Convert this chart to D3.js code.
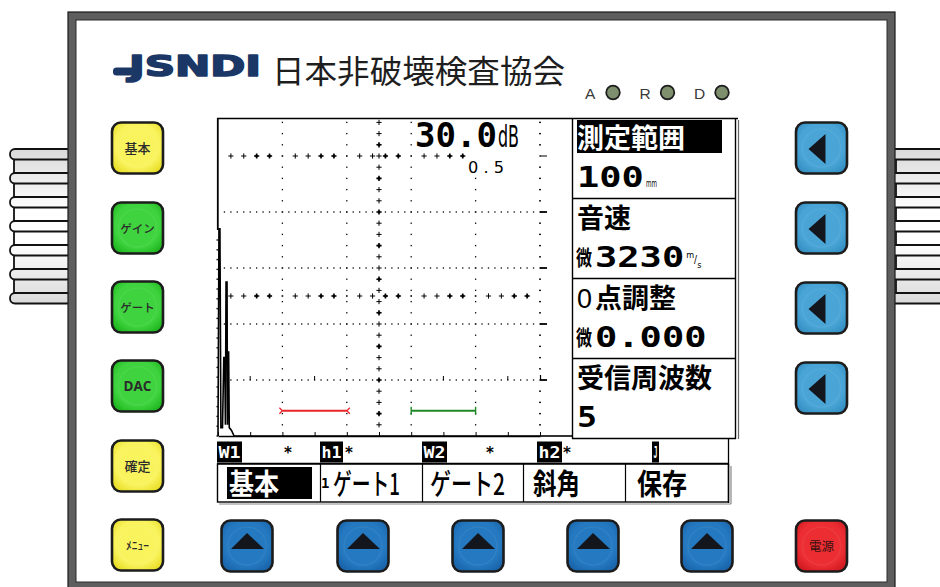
<!DOCTYPE html>
<html><head><meta charset="utf-8">
<script src="https://cdn.jsdelivr.net/npm/d3@7/dist/d3.min.js"></script>
<style>html,body{margin:0;padding:0;background:#fff;overflow:hidden}svg{display:block}</style>
</head><body>
<script>
// ---------------- data ----------------
const rangeMm = [0, 100];
const ampPct = [0, 100];
const xTicksMm = [0,10,20,30,40,50,60,70,80,90,100];
const xGridMm = [20,40,60,80,100];
const yGridPct = [20,40,60,80];
const yCrossPct = [50,100];
const echoMm  = [0.0,0.3,0.6,0.9,1.4,1.8,2.1,2.3,2.5,2.8,2.95,3.1,3.3,3.5,4.2,5.0,100];
const echoPct = [0,  74, 74, 3,  3,  28, 28, 4,  55, 55, 4,   30, 30, 3,  2,  0,  0];
const gateStartMm = [20, 60];
const gateEndMm   = [40, 80];
const gateLevelPct = [9, 9];
const gainDb = "30.0";
const gainStep = "0.5";
const panelTitles = ["測定範囲","音速","0点調整","受信周波数"];
const panelPrefix = ["","微","微",""];
const panelValues = ["100","3230","0.000","5"];
const panelUnits  = ["mm","m/s","",""];
const statusLabels = ["W1","h1","W2","h2","J"];
const menuLabels = ["基本","ゲート1","ゲート2","斜角","保存"];
const leftKeys = ["基本","ゲイン","ゲート","DAC","確定","ﾒﾆｭｰ"];
const leftKeyKinds = ["yellow","green","green","green","yellow","yellow"];
const ledLabels = ["A","R","D"];
const brandLogo = "JSNDI";
const brandName = "日本非破壊検査協会";
const powerLabel = "電源";

// ---------------- drawing ----------------
const W = 940, H = 587;
const svg = d3.select("body").append("svg").attr("width", W).attr("height", H);
const defs = svg.append("defs");
function radial(id, c0, c1) {
  const g = defs.append("radialGradient").attr("id", id).attr("cx","50%").attr("cy","45%").attr("r","62%");
  g.append("stop").attr("offset","0%").attr("stop-color", c0);
  g.append("stop").attr("offset","70%").attr("stop-color", c0);
  g.append("stop").attr("offset","100%").attr("stop-color", c1);
}
radial("gyellow", "#f9f35e", "#e9df2a");
radial("ggreen",  "#3fd43f", "#20b820");
radial("gblueR",  "#4aa5d6", "#3590c4");
radial("gblueB",  "#2479c0", "#1a64aa");
radial("gred",    "#ec2e33", "#d21b21");
radial("gled",    "#7d8f6c", "#3a4934");
const grip = defs.append("linearGradient").attr("id","ggrip").attr("gradientUnits","userSpaceOnUse")
  .attr("x1",0).attr("y1",149).attr("x2",0).attr("y2",304);
[["0","#d9d9d9"],["0.4","#ffffff"],["0.6","#ffffff"],["1","#d9d9d9"]]
  .forEach(s => grip.append("stop").attr("offset", s[0]).attr("stop-color", s[1]));

const CJK = "'Noto Sans CJK JP', sans-serif";
const MONO = "'DejaVu Sans Mono', monospace";

// side grips
const pillTops = d3.range(7).map(i => 149 + i * 24);
function drawGrip(xPill0, xPill1, xRect0, xRect1) {
  const g = svg.append("g");
  pillTops.slice(0, -1).forEach(t => {
    g.append("rect").attr("x", xRect0).attr("y", t + 10).attr("width", xRect1 - xRect0).attr("height", 14)
      .attr("fill", "url(#ggrip)").attr("stroke", "#111").attr("stroke-width", 1.8);
  });
  pillTops.forEach(t => {
    g.append("rect").attr("x", xPill0).attr("y", t).attr("width", xPill1 - xPill0).attr("height", 10.5)
      .attr("rx", 5).attr("fill", "url(#ggrip)").attr("stroke", "#111").attr("stroke-width", 1.8);
  });
}
drawGrip(10, 72, 14, 70);
drawGrip(890, 952, 896, 952);

// device frame
svg.append("rect").attr("x", 72).attr("y", 16).attr("width", 819).attr("height", 570)
  .attr("fill", "#fff").attr("stroke", "#5e5e5e").attr("stroke-width", 8);
svg.append("rect").attr("x", 68).attr("y", 12).attr("width", 827).attr("height", 578)
  .attr("fill", "none").attr("stroke", "#1a1a1a").attr("stroke-width", 1.2);
svg.append("rect").attr("x", 76).attr("y", 20).attr("width", 811).attr("height", 562)
  .attr("fill", "none").attr("stroke", "#2a2a2a").attr("stroke-width", 1);

// logo
const logo = svg.append("g");
logo.append("rect").attr("x", 113).attr("y", 67.5).attr("width", 28).attr("height", 8).attr("rx", 3.5).attr("fill", "#1b3766");
logo.append("text").attr("x", 129).attr("y", 75.5).text(brandLogo)
  .attr("font-family", "'DejaVu Sans', sans-serif").attr("font-weight", "bold").attr("font-size", 28)
  .attr("textLength", 132).attr("lengthAdjust", "spacingAndGlyphs").attr("fill", "#1b3766")
  .attr("stroke", "#1b3766").attr("stroke-width", 1.6).attr("stroke-linejoin", "round");
logo.append("text").attr("x", 272).attr("y", 83).text(brandName)
  .attr("font-family", CJK).attr("font-size", 32).attr("textLength", 293).attr("lengthAdjust","spacingAndGlyphs")
  .attr("fill", "#1e1e1e");

// LEDs
ledLabels.forEach((l, i) => {
  const bx = 585 + i * 54.5;
  svg.append("text").attr("x", bx).attr("y", 98.5).text(l)
    .attr("font-family", "'Liberation Sans', Arial, sans-serif").attr("font-size", 15.5).attr("fill", "#3a3a3a");
  svg.append("circle").attr("cx", bx + 28).attr("cy", 92.5).attr("r", 6.8)
    .attr("fill", "url(#gled)").attr("stroke", "#1e1e1e").attr("stroke-width", 1.8);
});

// keys
function key(cx, cy, fill) {
  const g = svg.append("g").attr("transform", `translate(${cx},${cy})`);
  g.append("rect").attr("x", -25.5).attr("y", -25.5).attr("width", 51).attr("height", 51).attr("rx", 9)
    .attr("fill", fill).attr("stroke", "#1c1c1c").attr("stroke-width", 2.6);
  g.append("circle").attr("r", 19).attr("fill", "none").attr("stroke", "#ffffff").attr("stroke-opacity", 0.06).attr("stroke-width", 1.5);
  return g;
}
const leftKeyY = [148, 228, 307, 386, 466, 545];
leftKeys.forEach((k, i) => {
  const g = key(137.5, leftKeyY[i], leftKeyKinds[i] === "yellow" ? "url(#gyellow)" : "url(#ggreen)");
  const isDac = k === "DAC";
  g.append("text").attr("x", 0).attr("y", isDac ? 5 : 4.5).attr("text-anchor", "middle").text(k)
    .attr("font-family", isDac ? "'Open Sans', sans-serif" : CJK)
    .attr("font-weight", isDac ? 700 : 500)
    .attr("font-size", isDac ? 13.5 : (k.length > 2 ? 11.5 : 13))
    .attr("fill", "#2b2b2b");
});
const rightKeyY = [148, 228, 308, 388];
rightKeyY.forEach(cy => {
  const g = key(821.5, cy, "url(#gblueR)");
  g.append("path").attr("d", "M-13,1 L4,-14 L4,16 Z").attr("fill", "#14161e");
});
const bottomKeyX = [247, 363, 478, 593, 707];
bottomKeyX.forEach(cx => {
  const g = key(cx, 546, "url(#gblueB)");
  g.append("path").attr("d", "M-16,3 L0,-13 L17,3 Z").attr("fill", "#14161e");
});
{
  const g = key(821.5, 546, "url(#gred)");
  g.append("text").attr("x", 0).attr("y", 4.5).attr("text-anchor", "middle").text(powerLabel)
    .attr("font-family", CJK).attr("font-size", 12.5).attr("fill", "#3a1010");
}

// ---------------- LCD ----------------
const x = d3.scaleLinear().domain(rangeMm).range([218, 540]);
const y = d3.scaleLinear().domain(ampPct).range([436, 156]);
const lcd = svg.append("g");
lcd.append("rect").attr("x", 217).attr("y", 118).attr("width", 521).attr("height", 385).attr("fill", "#fff");

const dotAmps = d3.range(4, 113, 4);
const dot = (px, py, s = 1.3) => lcd.append("rect").attr("x", px - s / 2).attr("y", py - s / 2).attr("width", s).attr("height", s).attr("fill", "#000");
const cross = (px, py, heavy) => {
  const s = 2.6;
  lcd.append("path").attr("d", `M${px - s},${py}H${px + s}M${px},${py - s}V${py + s}`)
    .attr("stroke", "#000").attr("stroke-width", heavy ? 1.6 : 1);
  if (heavy) dot(px, py, 2.4);
};

// vertical dotted grid lines
xGridMm.forEach(m => dotAmps.forEach(a => { if (![20,40,60,80,50,100].includes(a)) dot(x(m), y(a)); }));
// horizontal dotted grid lines
yGridPct.forEach(a => d3.range(2, 100, 2).forEach(m => { if (m % 20 !== 0 && m !== 50) dot(x(m), y(a)); }));
yGridPct.concat(yCrossPct).forEach(a => xGridMm.slice(0, -1).forEach(m => dot(x(m), y(a), 1.6)));
// cross rows
yCrossPct.forEach(a => d3.range(4, 100, 4).forEach(m => {
  if (m % 20 !== 0) cross(x(m), y(a), (m % 20) > 10);
}));
// center line
dotAmps.forEach((a, i) => cross(x(50), y(a), i % 3 === 1));
// small ticks on 20% line
[10, 30, 70, 90].forEach(m => lcd.append("line").attr("x1", x(m)).attr("x2", x(m)).attr("y1", y(20)).attr("y2", y(20) - 4).attr("stroke", "#000").attr("stroke-width", 1));
// right end markers
yGridPct.concat([100]).forEach(a => lcd.append("line").attr("x1", x(100)).attr("x2", x(100) + 7).attr("y1", y(a)).attr("y2", y(a))
  .attr("stroke", "#000").attr("stroke-width", a === 100 ? 1 : 1.8));
lcd.append("line").attr("x1", x(100) + 0.5).attr("x2", x(100) + 0.5).attr("y1", y(20) - 5).attr("y2", y(20)).attr("stroke", "#000").attr("stroke-width", 1.2);
// right dotted edge column
dotAmps.forEach(a => dot(x(100), y(a)));

// gain readout boxes
lcd.append("rect").attr("x", 414).attr("y", 119.5).attr("width", 118).attr("height", 31).attr("fill", "#fff");
lcd.append("rect").attr("x", 466).attr("y", 150).attr("width", 66).attr("height", 25).attr("fill", "#fff");
lcd.append("text").attr("x", 415).attr("y", 147).text(gainDb)
  .attr("font-family", MONO).attr("font-weight", "bold").attr("font-size", 33)
  .attr("textLength", 82).attr("lengthAdjust", "spacingAndGlyphs");
lcd.append("text").attr("x", 498).attr("y", 147).text("dB")
  .attr("font-family", "'Liberation Sans Narrow','DejaVu Sans Condensed',sans-serif").attr("font-size", 31)
  .attr("textLength", 21).attr("lengthAdjust", "spacingAndGlyphs");
lcd.append("text").attr("x", 468).attr("y", 172.5).text(gainStep.split("").join(" "))
  .attr("font-family", "'DejaVu Sans Condensed', sans-serif").attr("font-size", 15)
  .attr("textLength", 36).attr("lengthAdjust", "spacingAndGlyphs");

// left edge: solid upper part, dotted lower
lcd.append("line").attr("x1", 217.8).attr("x2", 217.8).attr("y1", 118).attr("y2", 230).attr("stroke", "#000").attr("stroke-width", 1.8);
d3.range(0, 72, 3.5).forEach(a => dot(217.2, y(a), 1.4));

// baseline axis
const axis = d3.axisBottom(x).tickValues(xTicksMm).tickSize(-4).tickSizeOuter(0).tickFormat("");
const ag = lcd.append("g").attr("transform", `translate(0,${y(0)})`).call(axis);
ag.select(".domain").attr("stroke", "#000").attr("stroke-width", 1.6);
ag.selectAll(".tick line").attr("stroke", "#000").attr("stroke-width", 1);
lcd.append("line").attr("x1", 540).attr("x2", 572).attr("y1", y(0)).attr("y2", y(0)).attr("stroke", "#000").attr("stroke-width", 1.6);

// gates
const gateColor = ["#e8242a", "#1f8a25"];
gateStartMm.forEach((s, i) => {
  const gy = y(gateLevelPct[i]), gx0 = x(s), gx1 = x(gateEndMm[i]);
  lcd.append("line").attr("x1", gx0).attr("x2", gx1).attr("y1", gy).attr("y2", gy).attr("stroke", gateColor[i]).attr("stroke-width", 2);
  if (i === 0) {
    lcd.append("path").attr("d", `M${gx0 - 3},${gy - 3}L${gx0},${gy}L${gx0 - 3},${gy + 3}M${gx1 + 3},${gy - 3}L${gx1},${gy}L${gx1 + 3},${gy + 3}`)
      .attr("stroke", gateColor[i]).attr("fill", "none").attr("stroke-width", 1.3);
  } else {
    lcd.append("path").attr("d", `M${gx0},${gy - 4}V${gy + 4}M${gx1},${gy - 4}V${gy + 4}`)
      .attr("stroke", gateColor[i]).attr("stroke-width", 1.4);
  }
});

// echo trace
const line = d3.line().x(i => x(echoMm[i])).y(i => y(echoPct[i]));
lcd.append("path").attr("d", line(d3.range(echoMm.length))).attr("fill", "none")
  .attr("stroke", "#000").attr("stroke-width", 1.6).attr("stroke-linejoin", "miter");

// top border
lcd.append("line").attr("x1", 217).attr("x2", 738).attr("y1", 118.5).attr("y2", 118.5).attr("stroke", "#000").attr("stroke-width", 1.6);

// ---- right panel ----
const panel = lcd.append("g");
panel.append("line").attr("x1", 572.5).attr("x2", 572.5).attr("y1", 118).attr("y2", 439).attr("stroke", "#000").attr("stroke-width", 1.4);
panel.append("line").attr("x1", 735.5).attr("x2", 735.5).attr("y1", 118).attr("y2", 439).attr("stroke", "#000").attr("stroke-width", 1.4);
panel.append("line").attr("x1", 738.5).attr("x2", 738.5).attr("y1", 120).attr("y2", 439).attr("stroke", "#666").attr("stroke-width", 1.2);
[198, 278, 358, 438].forEach(yy => panel.append("line").attr("x1", 572).attr("x2", 736).attr("y1", yy + 0.5).attr("y2", yy + 0.5).attr("stroke", "#000").attr("stroke-width", 1.3));
const rowTop = [118, 198, 278, 358];
panelTitles.forEach((t, i) => {
  const r = rowTop[i];
  if (i === 0) panel.append("rect").attr("x", 577).attr("y", r + 2).attr("width", 145).attr("height", 33).attr("fill", "#000");
  if (t.startsWith("0")) {
    panel.append("text").attr("x", 577).attr("y", r + 30).text("0").attr("font-family", "'Liberation Sans',sans-serif").attr("font-size", 27).attr("textLength", 15).attr("lengthAdjust","spacingAndGlyphs");
    panel.append("text").attr("x", 595).attr("y", r + 30).text(t.slice(1)).attr("font-family", CJK).attr("font-weight", 700).attr("font-size", 27)
      .attr("textLength", 81).attr("lengthAdjust", "spacingAndGlyphs");
  } else {
    panel.append("text").attr("x", 577).attr("y", r + 30).text(t).attr("font-family", CJK).attr("font-weight", 700).attr("font-size", 27)
      .attr("fill", i === 0 ? "#fff" : "#000").attr("textLength", t.length * 27).attr("lengthAdjust", "spacingAndGlyphs");
  }
  let vx = 577;
  if (panelPrefix[i]) {
    panel.append("text").attr("x", 576).attr("y", r + 67).text(panelPrefix[i]).attr("font-family", CJK).attr("font-weight", 700)
      .attr("font-size", 21).attr("textLength", 16).attr("lengthAdjust", "spacingAndGlyphs");
    vx = 595;
  }
  const v = panelValues[i];
  const vw = v.length * 22.3;
  panel.append("text").attr("x", vx).attr("y", r + 69).text(v).attr("font-family", MONO).attr("font-weight", "bold")
    .attr("font-size", i === 3 ? 28 : 29).attr("textLength", i === 3 ? 20 : vw).attr("lengthAdjust", "spacingAndGlyphs");
  const u = panelUnits[i];
  if (u === "mm") {
    panel.append("text").attr("x", vx + vw + 2).attr("y", r + 69).text(u).attr("font-family", "'DejaVu Sans Condensed',sans-serif")
      .attr("font-size", 11).attr("textLength", 11).attr("lengthAdjust", "spacingAndGlyphs");
  } else if (u === "m/s") {
    const ux = vx + vw + 2;
    const parts = u.split("");
    const ut = panel.append("text").attr("x", ux).attr("y", r + 60)
      .attr("font-family", "'DejaVu Sans Condensed',sans-serif").attr("font-size", 9);
    ut.append("tspan").text(parts[0]);
    ut.append("tspan").attr("dy", 5).attr("font-size", 10).text(parts[1]);
    ut.append("tspan").attr("dy", 5).text(parts[2]);
  }
});

// ---- status row ----
const status = lcd.append("g");
status.append("line").attr("x1", 217).attr("x2", 729).attr("y1", 463.5).attr("y2", 463.5).attr("stroke", "#000").attr("stroke-width", 1.3);
status.append("line").attr("x1", 728.5).attr("x2", 728.5).attr("y1", 439).attr("y2", 503).attr("stroke", "#000").attr("stroke-width", 1.3);
const statusX = [217, 320, 422, 537, 652];
const statusW = [25, 23, 25, 25, 7];
statusLabels.forEach((s, i) => {
  status.append("rect").attr("x", statusX[i]).attr("y", 441.5).attr("width", statusW[i]).attr("height", 21).attr("fill", "#000");
  status.append("text").attr("x", statusX[i] + 1.5).attr("y", 458).text(s).attr("fill", "#fff")
    .attr("font-family", MONO).attr("font-weight", "bold").attr("font-size", 15)
    .attr("textLength", statusW[i] - 3).attr("lengthAdjust", "spacingAndGlyphs");
});
[288, 349, 490, 567].forEach(ax => status.append("text").attr("x", ax).attr("y", 458).attr("text-anchor", "middle").text("*")
  .attr("font-family", "'DejaVu Sans',sans-serif").attr("font-weight", "bold").attr("font-size", 15));

// ---- menu row ----
const menu = lcd.append("g");
const cellX = [217, 320, 422, 523, 625, 728];
menu.append("rect").attr("x", 217.5).attr("y", 464).attr("width", 511).attr("height", 38).attr("fill", "none").attr("stroke", "#000").attr("stroke-width", 1.4);
menu.append("line").attr("x1", 219).attr("x2", 731).attr("y1", 504).attr("y2", 504).attr("stroke", "#888").attr("stroke-width", 1.2);
menu.append("line").attr("x1", 731).attr("x2", 731).attr("y1", 466).attr("y2", 504).attr("stroke", "#888").attr("stroke-width", 1.2);
cellX.slice(1, -1).forEach(cx => menu.append("line").attr("x1", cx + 0.5).attr("x2", cx + 0.5).attr("y1", 464).attr("y2", 502).attr("stroke", "#000").attr("stroke-width", 1.2));
menu.append("rect").attr("x", 227).attr("y", 467).attr("width", 85).attr("height", 32).attr("fill", "#000");
const menuTextX = [229, 333, 430, 533, 637];
const menuTextW = [50, 67, 75, 47, 50];
menuLabels.forEach((m, i) => {
  menu.append("text").attr("x", menuTextX[i]).attr("y", 495).text(m).attr("fill", i === 0 ? "#fff" : "#000")
    .attr("font-family", CJK).attr("font-weight", i === 0 || i > 2 ? 700 : 500).attr("font-size", 29)
    .attr("textLength", menuTextW[i]).attr("lengthAdjust", "spacingAndGlyphs");
});
menu.append("text").attr("x", 321).attr("y", 488).text("1").attr("font-family", MONO).attr("font-weight", "bold").attr("font-size", 14);
</script>
</body></html>
